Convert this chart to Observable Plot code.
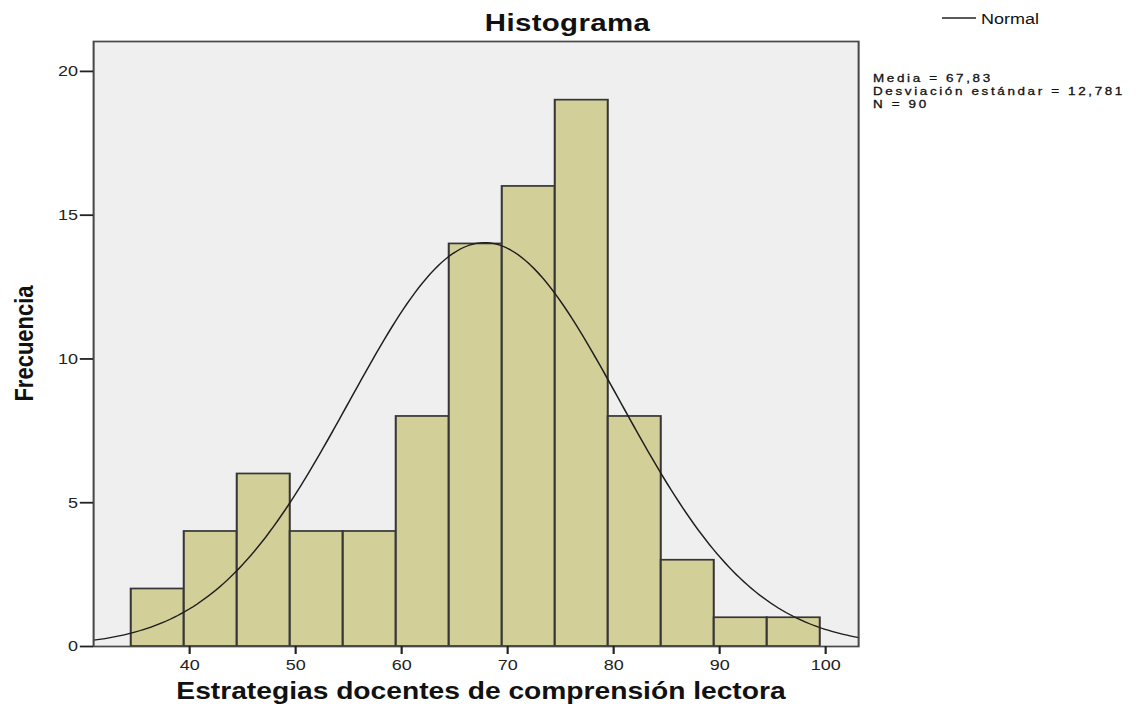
<!DOCTYPE html>
<html><head><meta charset="utf-8">
<script src="https://cdn.jsdelivr.net/npm/d3@7"></script>
<script src="https://cdn.jsdelivr.net/npm/@observablehq/plot@0.6"></script>
<style>
html,body{margin:0;padding:0;background:#fff;overflow:hidden}
#chart{width:1139px;height:716px;overflow:hidden;position:relative}
#chart svg{transform:scaleX(1.2002);transform-origin:0 0;display:block}
</style></head><body><div id="chart"></div>
<script>
// Data
const binStarts = [34.5, 39.5, 44.5, 49.5, 54.5, 59.5, 64.5, 69.5, 74.5, 79.5, 84.5, 89.5, 94.5];
const counts    = [2, 4, 6, 4, 4, 8, 14, 16, 19, 8, 3, 1, 1];
const binWidth = 5;
const mean = 67.83;
const sd = 12.781;
const n = 90;
const xTicks = [40, 50, 60, 70, 80, 90, 100];
const yTicks = [0, 5, 10, 15, 20];
const titleText = "Histograma";
const xLabel = "Estrategias docentes de comprensión lectora";
const yLabel = "Frecuencia";
const legendLabel = "Normal";
const statsLines = ["Media = 67,83", "Desviación estándar = 12,781", "N = 90"];

const S = 1139 / 949;             // horizontal stretch of the reference
const xDomain = [30.94, 103.11];
const yDomain = [0, 21.04];

const bins = binStarts.map((s, i) => ({x1: s, x2: s + binWidth, count: counts[i]}));

// Normal curve overlay defined by the stated mean, sd and N
const steps = 200;
const curve = d3.range(steps + 1).map(i => {
  const x = xDomain[0] + (xDomain[1] - xDomain[0]) * i / steps;
  const z = (x - mean) / sd;
  return {x, y: n * binWidth * Math.exp(-0.5 * z * z) / (sd * Math.sqrt(2 * Math.PI))};
});

const font = "'Liberation Sans', Arial, Helvetica, sans-serif";

const plot = Plot.plot({
  width: 949, height: 716,
  marginLeft: 77.5, marginRight: 234.1, marginTop: 41, marginBottom: 70,
  style: {fontFamily: font, fontSize: "15px", color: "#222", background: "transparent", overflow: "visible"},
  x: {domain: xDomain, label: null},
  y: {domain: yDomain, label: null},
  marks: [
    Plot.frame({fill: "#efefef"}),
    Plot.rectY(bins, {x1: "x1", x2: "x2", y: "count", fill: "#d3cf98", stroke: "#363636", strokeWidth: 1.7}),
    Plot.line(curve, {x: "x", y: "y", stroke: "#1e1e1e", strokeWidth: 1.3}),
    Plot.frame({stroke: "#484848", strokeWidth: 1.7}),
    Plot.axisX({ticks: xTicks, tickSize: 8, tickPadding: 5, strokeWidth: 1.8, label: null}),
    Plot.axisY({ticks: yTicks, tickSize: 11, tickPadding: 2, strokeWidth: 1.8, label: null})
  ]
});

const svg = d3.select(plot);
svg.append("text").text(titleText)
  .attr("x", 567.5 / S).attr("y", 31).attr("text-anchor", "middle")
  .attr("font-family", font).attr("font-weight", "bold").attr("font-size", 24.5)
  .attr("letter-spacing", "0.3px").attr("fill", "#111");
svg.append("text").text(xLabel)
  .attr("x", 481 / S).attr("y", 699).attr("text-anchor", "middle")
  .attr("font-family", font).attr("font-weight", "bold").attr("font-size", 23.5).attr("fill", "#111");
svg.append("text").text(yLabel)
  .attr("transform", `translate(${33 / S},343.5) rotate(-90)`).attr("text-anchor", "middle")
  .attr("font-family", font).attr("font-weight", "bold").attr("font-size", 22).attr("fill", "#111");
svg.append("line")
  .attr("x1", 942 / S).attr("x2", 976 / S).attr("y1", 18).attr("y2", 18)
  .attr("stroke", "#222").attr("stroke-width", 1.4);
svg.append("text").text(legendLabel)
  .attr("x", 981 / S).attr("y", 24).attr("text-anchor", "start")
  .attr("font-family", font).attr("font-size", 15).attr("fill", "#111");
statsLines.forEach((t, i) => {
  svg.append("text").text(t)
    .attr("x", 873 / S).attr("y", 82.5 + i * 12.7).attr("text-anchor", "start")
    .attr("font-family", font).attr("font-size", 11.2).attr("letter-spacing", "2.2px")
    .attr("stroke", "#111").attr("stroke-width", 0.3).attr("fill", "#111");
});

document.getElementById("chart").appendChild(plot);
</script>
</body></html>
